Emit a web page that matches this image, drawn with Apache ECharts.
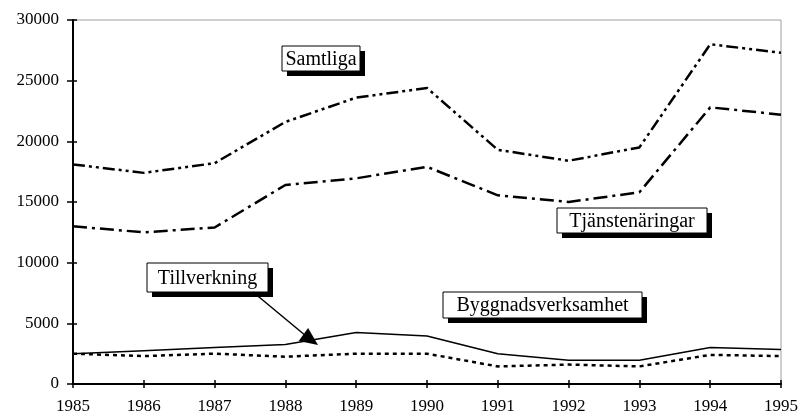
<!DOCTYPE html>
<html>
<head>
<meta charset="utf-8">
<script src="https://cdn.jsdelivr.net/npm/echarts@6/dist/echarts.min.js"></script>
<style>
  * { margin: 0; padding: 0; }
  html, body { background: #fff; }
  #main { width: 801px; height: 416px; }
</style>
</head>
<body>
<!-- chart container -->
<div id="main"></div>
<script>
// data
var years = ['1985','1986','1987','1988','1989','1990','1991','1992','1993','1994','1995'];
var samtliga = [18100, 17400, 18200, 21600, 23600, 24400, 19300, 18400, 19500, 28000, 27300];
var tjanste = [13000, 12500, 12900, 16400, 16950, 17900, 15550, 15000, 15800, 22800, 22200];
var tillverkning = [2500, 2750, 3000, 3250, 4250, 3950, 2500, 1950, 1950, 3000, 2850];
var bygg = [2500, 2300, 2500, 2250, 2500, 2500, 1450, 1600, 1450, 2400, 2300];
var yTicks = [0, 5000, 10000, 15000, 20000, 25000, 30000];

var FONT = 'Liberation Serif';

function box(x, y, w, h, label) {
    return {
        type: 'group',
        children: [
            { type: 'rect', shape: { x: x + 5, y: y + 5, width: w, height: h }, style: { fill: '#000' } },
            { type: 'rect', shape: { x: x, y: y, width: w, height: h }, style: { fill: '#fff', stroke: '#000', lineWidth: 1 } },
            { type: 'text', x: x + w / 2, y: y + h / 2 + 1,
              style: { text: label, font: '20px "' + FONT + '"', fill: '#000', align: 'center', verticalAlign: 'middle' } }
        ]
    };
}

function lineSeries(name, data, type, width) {
    return {
        name: name,
        type: 'line',
        data: data,
        symbol: 'none',
        xAxisIndex: 0,
        yAxisIndex: 0,
        lineStyle: { color: '#000', width: width, type: type },
        z: 3
    };
}

var yAxisBase = {
    type: 'value',
    min: yTicks[0],
    max: yTicks[yTicks.length - 1],
    interval: 5000,
    splitLine: { show: false }
};

var option = {
    animation: false,
    grid: {
        left: 73, right: 19, top: 20, bottom: 32,
        show: true, borderColor: '#a0a0a0', borderWidth: 1
    },
    xAxis: [{
        type: 'category',
        data: years,
        boundaryGap: false,
        axisLine: { lineStyle: { color: '#000', width: 2 } },
        axisTick: { inside: false, length: 4, lineStyle: { color: '#000', width: 1.5 } },
        axisLabel: { color: '#000', fontFamily: FONT, fontSize: 17, margin: 14 }
    }, {
        type: 'category',
        data: years,
        position: 'bottom',
        boundaryGap: false,
        axisLine: { show: false },
        axisTick: { inside: true, length: 4, lineStyle: { color: '#000', width: 1.5 } },
        axisLabel: { show: false }
    }],
    yAxis: [Object.assign({}, yAxisBase, {
        axisLine: { show: true, lineStyle: { color: '#000', width: 2 } },
        axisTick: { show: true, inside: false, length: 6, lineStyle: { color: '#000', width: 1.5 } },
        axisLabel: {
            color: '#000', fontFamily: FONT, fontSize: 17, margin: 14,
            formatter: function (v) { return String(v); }
        }
    }), Object.assign({}, yAxisBase, {
        position: 'left',
        axisLine: { show: false },
        axisTick: { show: true, inside: true, length: 4, lineStyle: { color: '#000', width: 1.5 } },
        axisLabel: { show: false }
    })],
    series: [
        lineSeries('Samtliga', samtliga, [12, 4, 3, 4, 3, 4], 2.5),
        lineSeries('Tjänstenäringar', tjanste, [14, 5, 3, 5], 2.5),
        lineSeries('Tillverkning', tillverkning, 'solid', 1.5),
        lineSeries('Byggnadsverksamhet', bygg, [4, 4], 2.5)
    ],
    graphic: [
        box(282, 46, 78, 25, 'Samtliga'),
        box(557, 208, 150, 25, 'Tjänstenäringar'),
        box(147, 263, 121, 29, 'Tillverkning'),
        box(443, 292, 199, 26, 'Byggnadsverksamhet'),
        // arrow from label to line
        { type: 'line', shape: { x1: 253, y1: 292, x2: 306, y2: 336 }, style: { stroke: '#000', lineWidth: 1.5 }, z: 10 },
        { type: 'polygon', shape: { points: [[318, 345], [298.7, 340.9], [308.1, 327.9]] }, style: { fill: '#000' }, z: 10 }
    ]
};

var chart = echarts.init(document.getElementById('main'));
chart.setOption(option);
</script>
</body>
</html>
